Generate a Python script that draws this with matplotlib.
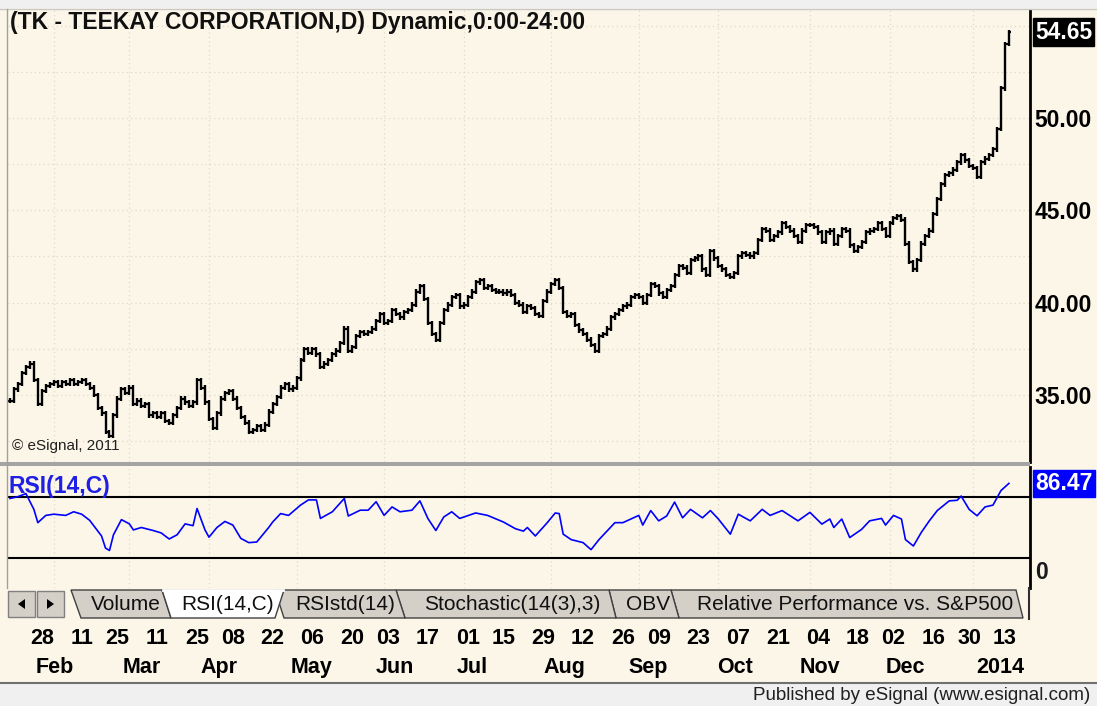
import numpy as np
import pandas as pd
import matplotlib
matplotlib.use("Agg")
import matplotlib.pyplot as plt
from matplotlib.patches import Polygon, Rectangle
from matplotlib.lines import Line2D

plt.rcParams["font.family"] = ["Liberation Sans", "DejaVu Sans"]

# --- data ---
holidays = ["2013-01-21", "2013-02-18", "2013-03-29", "2013-05-27", "2013-07-04",
            "2013-09-02", "2013-11-28", "2013-12-25", "2014-01-01"]

closes = [
    34.7, 35.3, 35.6, 36.2, 36.5, 36.7, 35.8, 34.5, 35.2, 35.5,
    35.6, 35.7, 35.5, 35.7, 35.6, 35.8, 35.6, 35.7, 35.8, 35.6,
    35.4, 35.0, 34.3, 34.0, 33.0, 32.8, 33.9, 34.8, 35.3, 35.1,
    35.4, 34.5, 34.7, 34.4, 34.5, 33.9, 34.0, 33.8, 34.0, 33.6,
    33.5, 33.9, 34.3, 34.8, 34.6, 34.4, 34.6, 35.8, 35.4, 34.6,
    33.7, 33.2, 34.0, 34.8, 35.1, 35.2, 34.8, 34.3, 33.8, 33.5,
    33.0, 33.1, 33.3, 33.1, 33.4, 34.1, 34.5, 34.9, 35.4, 35.6,
    35.3, 35.4, 35.9, 36.9, 37.5, 37.3, 37.5, 37.2, 36.5, 36.7,
    36.9, 37.2, 37.4, 37.8, 38.6, 37.4, 37.6, 38.2, 38.4, 38.3,
    38.4, 38.6, 39.0, 39.4, 38.9, 39.0, 39.6, 39.4, 39.2, 39.5,
    39.6, 39.9, 40.6, 40.9, 40.2, 38.9, 38.3, 38.0, 38.9, 39.6,
    39.9, 40.3, 40.4, 39.8, 39.9, 40.3, 40.6, 41.1, 41.2, 40.8,
    40.9, 40.7, 40.6, 40.6, 40.5, 40.6, 40.4, 40.0, 39.9, 39.5,
    39.8, 39.7, 39.4, 39.3, 40.1, 40.6, 41.0, 41.2, 40.8, 39.5,
    39.3, 39.4, 38.8, 38.5, 38.3, 38.0, 37.7, 37.4, 38.2, 38.3,
    38.6, 39.2, 39.4, 39.6, 39.8, 39.9, 40.3, 40.4, 40.3, 40.0,
    40.4, 41.0, 40.9, 40.5, 40.3, 40.7, 40.9, 41.5, 42.0, 41.9,
    41.6, 42.3, 42.4, 42.5, 41.8, 41.5, 42.8, 42.4, 42.0, 41.8,
    41.5, 41.4, 41.6, 42.5, 42.7, 42.6, 42.5, 42.7, 43.4, 44.0,
    43.9, 43.4, 43.6, 43.8, 44.3, 44.1, 43.9, 43.6, 43.3, 43.9,
    44.2, 44.2, 44.1, 43.8, 43.3, 43.8, 43.9, 43.2, 43.6, 44.0,
    43.9, 43.1, 42.8, 43.0, 43.3, 43.8, 43.9, 44.0, 44.3, 44.0,
    43.6, 44.3, 44.6, 44.7, 44.5, 43.2, 42.2, 41.8, 42.3, 43.2,
    43.6, 43.9, 44.8, 45.6, 46.4, 46.9, 47.0, 47.2, 47.6, 48.0,
    47.7, 47.4, 47.3, 46.8, 47.6, 47.8, 48.0, 48.3, 49.4, 51.6,
    54.0, 54.65,
]

rsi_idx = [0, 2, 4, 6, 7, 9, 11, 14, 16, 18, 20, 23, 24, 25, 26, 28, 30, 31, 33, 36,
           38, 40, 42, 44, 46, 47, 49, 50, 52, 54, 56, 58, 60, 62, 63, 65, 66, 68, 70, 73,
           75, 77, 78, 81, 84, 85, 88, 90, 92, 94, 96, 98, 101, 103, 105, 107, 109, 111, 113, 117,
           120, 124, 127, 129, 130, 132, 135, 137, 138, 139, 141, 144, 146, 148, 150, 152, 154, 156, 158, 159,
           161, 163, 165, 167, 169, 171, 174, 176, 178, 181, 183, 186, 189, 191, 194, 198, 201, 204, 206, 207,
           209, 211, 214, 216, 219, 220, 222, 224, 225, 227, 229, 231, 233, 236, 238, 239, 241, 243, 245, 247,
           249, 251]
rsi_val = [74, 75.5, 78, 65, 54, 60, 61, 60, 63, 61, 56, 43, 33, 31, 44, 56.5, 53, 48, 50, 47.5,
           45.5, 40.5, 44, 53, 51.5, 65.7, 48, 42, 50, 55, 52, 41, 37.5, 38, 42, 50, 54.5, 61.5, 60, 68.5,
           72.8, 72.8, 57.5, 63, 74, 59.5, 64.3, 64.3, 71.3, 60, 67, 63, 64.3, 72, 57.5, 47.5, 58.7, 63, 57.5, 62,
           60, 54.5, 49, 47, 50, 43, 54, 62, 61.5, 44.5, 40, 37.5, 31.7, 40, 47, 54, 54, 57, 60, 52,
           64, 55.5, 59.5, 71, 58, 65, 58, 64, 57, 44.5, 61, 55.5, 65, 60, 64, 55.5, 62.5, 52.8, 57, 50,
           57, 41.7, 48.5, 55.5, 57.5, 52, 60, 57, 40, 34.7, 46, 55.5, 64, 72, 72.5, 76, 65, 59.7, 67, 68.5,
           80.5, 86.47]

tick_days = ["2013-01-28", "2013-02-11", "2013-02-25", "2013-03-11", "2013-03-25", "2013-04-08",
             "2013-04-22", "2013-05-06", "2013-05-20", "2013-06-03", "2013-06-17", "2013-07-01",
             "2013-07-15", "2013-07-29", "2013-08-12", "2013-08-26", "2013-09-09", "2013-09-23",
             "2013-10-07", "2013-10-21", "2013-11-04", "2013-11-18", "2013-12-02", "2013-12-16",
             "2013-12-30", "2014-01-13"]
month_labels = ["Feb", "Mar", "Apr", "May", "Jun", "Jul", "Aug", "Sep", "Oct", "Nov", "Dec", "2014"]
price_ticks = [35, 40, 45, 50]
tabs = ["Volume", "RSI(14,C)", "RSIstd(14)", "Stochastic(14(3),3)", "OBV",
        "Relative Performance vs. S&P500"]

# --- layout ---
W, H = 1097, 706
CREAM = "#fcf6e8"
GRID = "#e0d9c9"
month_label_x = [11.3, 33.2, 52.5, 75.9, 96.7, 116.1, 139.4, 160.3, 182.2, 203.5, 224.9, 248.7]

dates = pd.bdate_range("2013-01-15", "2014-01-14")
dates = dates[~dates.isin(pd.to_datetime(holidays))]
x = np.arange(len(dates))
closes = np.array(closes)
opens = np.r_[closes[0], closes[:-1]]
highs = np.maximum(opens, closes) + 0.12
lows = np.minimum(opens, closes) - 0.12

tick_pos = [dates.get_loc(pd.Timestamp(d)) for d in tick_days]
tick_lbl = [pd.Timestamp(d).strftime("%d") for d in tick_days]
pos = pd.Series(x, index=dates)
month_ends = pos.groupby(dates.to_period("M")).max().values[:-1]


def fxy(px, py):
    return (px / W, 1 - py / H)


def fig_line(xs, ys, **kw):
    fig.add_artist(Line2D([v / W for v in xs], [1 - v / H for v in ys],
                          transform=fig.transFigure, **kw))


def fig_poly(pts, **kw):
    fig.add_artist(Polygon([fxy(*p) for p in pts], closed=True,
                           transform=fig.transFigure, **kw))


fig = plt.figure(figsize=(W / 100, H / 100), dpi=100)
fig.patch.set_facecolor("#f0f0f0")
fig.add_artist(Rectangle(fxy(0, 683), 1, 675 / H, transform=fig.transFigure,
                         facecolor=CREAM, edgecolor="none", zorder=-1))

ax_p = fig.add_axes([8 / W, 1 - 462 / H, 1022 / W, 452 / H])
ax_r = fig.add_axes([8 / W, 1 - 588 / H, 1022 / W, 121 / H])
XL = (-0.5, 256.3)

# price panel
ax_p.set_facecolor(CREAM)
for lvl in np.arange(32.5, 56, 2.5):
    ax_p.axhline(lvl, color=GRID, lw=0.9, ls=(0, (1, 2.5)), zorder=0)
for m in month_ends:
    ax_p.axvline(m, color=GRID, lw=0.9, ls=(0, (1, 2.5)), zorder=0)
    ax_r.axvline(m, color=GRID, lw=0.9, ls=(0, (1, 2.5)), zorder=0)
ax_p.vlines(x, lows, highs, color="black", lw=1.7)
ax_p.hlines(opens, x - 0.5, x, color="black", lw=1.6)
ax_p.hlines(closes, x, x + 0.5, color="black", lw=1.6)
ax_p.set_xlim(*XL)
ax_p.set_ylim(31.37, 55.85)
ax_p.set_xticks([])
ax_p.yaxis.tick_right()
ax_p.set_yticks(price_ticks, labels=[f"{v:.2f}" for v in price_ticks])
ax_p.tick_params(axis="y", length=0, pad=3, labelsize=16.5)
for lbl in ax_p.get_yticklabels():
    lbl.set_fontweight("bold")
for s in ["left", "top", "bottom"]:
    ax_p.spines[s].set_visible(False)
ax_p.spines["right"].set_linewidth(2)
ax_p.text(0.002, 0.973, "(TK - TEEKAY CORPORATION,D) Dynamic,0:00-24:00",
          transform=ax_p.transAxes, ha="left", va="center", fontsize=16.5,
          fontweight="bold", color="#101010")
ax_p.text(0.004, 0.035, "\u00a9 eSignal, 2011", transform=ax_p.transAxes,
          ha="left", va="center", fontsize=11, color="#202020")
ax_p.annotate(f"{closes[-1]:.2f}", xy=(1, closes[-1]), xycoords=("axes fraction", "data"),
              xytext=(3.5, 0), textcoords="offset points", ha="left", va="center",
              fontsize=16.5, fontweight="bold", color="white",
              bbox=dict(boxstyle="square,pad=0.1", fc="black", ec="black"))

# RSI panel
ax_r.set_facecolor(CREAM)
ax_r.axhline(75, color="black", lw=1.5)
ax_r.axhline(25, color="black", lw=1.5)
ax_r.plot(rsi_idx, rsi_val, color="#0000ff", lw=1.2)
ax_r.set_xlim(*XL)
ax_r.set_ylim(0, 100)
ax_r.set_yticks([])
ax_r.set_xticks(tick_pos, labels=tick_lbl)
ax_r.tick_params(axis="x", length=0, pad=28.5, labelsize=15.5)
for lbl in ax_r.get_xticklabels():
    lbl.set_fontweight("bold")
for m, mx in zip(month_labels, month_label_x):
    ax_r.text(mx, -0.66, m, transform=ax_r.get_xaxis_transform(), ha="center",
              va="center", fontsize=15.5, fontweight="bold")
for s in ["left", "top", "bottom"]:
    ax_r.spines[s].set_visible(False)
ax_r.spines["right"].set_linewidth(2)
ax_r.text(0.0, 0.84, "RSI(14,C)", transform=ax_r.transAxes, ha="left", va="center",
          fontsize=16.5, fontweight="bold", color="#1f1fe6")
ax_r.annotate(f"{rsi_val[-1]:.2f}", xy=(1, rsi_val[-1]), xycoords=("axes fraction", "data"),
              xytext=(3.5, 0), textcoords="offset points", ha="left", va="center",
              fontsize=16.5, fontweight="bold", color="white",
              bbox=dict(boxstyle="square,pad=0.1", fc="#0000ff", ec="#0000ff"))
ax_r.annotate("0", xy=(1, 0), xycoords="axes fraction", xytext=(3.5, 11),
              textcoords="offset points", ha="left", va="center",
              fontsize=16.5, fontweight="bold", color="#1a1a1a")

# frame lines
fig_line([0, W], [9, 9], color="#c8c8c8", lw=1)
fig_line([7, 7], [9, 588], color="#a0a0a0", lw=1)
fig.add_artist(Rectangle(fxy(0, 466), 1030 / W, 4 / H, transform=fig.transFigure,
                         facecolor="#a4a4a4", edgecolor="none"))
fig_line([1029, 1029], [588, 619], color="#303030", lw=1.5)

# tab strip
for bx in (8, 37):
    fig.add_artist(Rectangle(fxy(bx, 617), 27 / W, 26 / H, transform=fig.transFigure,
                             facecolor="#d4d0c8", edgecolor="#808080", lw=1))
fig_poly([(18, 604), (25, 599), (25, 609)], facecolor="black", edgecolor="none")
fig_poly([(47, 599), (47, 609), (54, 604)], facecolor="black", edgecolor="none")

tab_shapes = [
    [(71, 590), (162, 590), (171, 618), (81, 618)],
    [(162, 590), (284, 590), (275, 618), (171, 618)],
    [(275, 590), (396, 590), (405, 618), (284, 618)],
    [(396, 590), (609, 590), (616, 618), (405, 618)],
    [(609, 590), (671, 590), (679, 618), (616, 618)],
    [(671, 590), (1016, 590), (1023, 618), (679, 618)],
]
tab_cx = [126, 228, 345, 512, 648, 855]
order = [5, 4, 3, 2, 0, 1]
for k in order:
    active = k == 1
    fig_poly(tab_shapes[k], facecolor="white" if active else "#d4d0c8",
             edgecolor="#404040", lw=1)
    if active:
        fig_line([163, 283], [590, 590], color="white", lw=2)
for name, cx in zip(tabs, tab_cx):
    fig.text(cx / W, 1 - 604 / H, name, ha="center", va="center", fontsize=15,
             color="#101010")

# footer
fig_line([0, W], [683, 683], color="#707070", lw=1.5)
fig.text(1090 / W, 1 - 696 / H, "Published by eSignal (www.esignal.com)", ha="right",
         va="center", fontsize=13.5, color="#202020")

fig.savefig("out.png", dpi=100, facecolor=fig.get_facecolor())
